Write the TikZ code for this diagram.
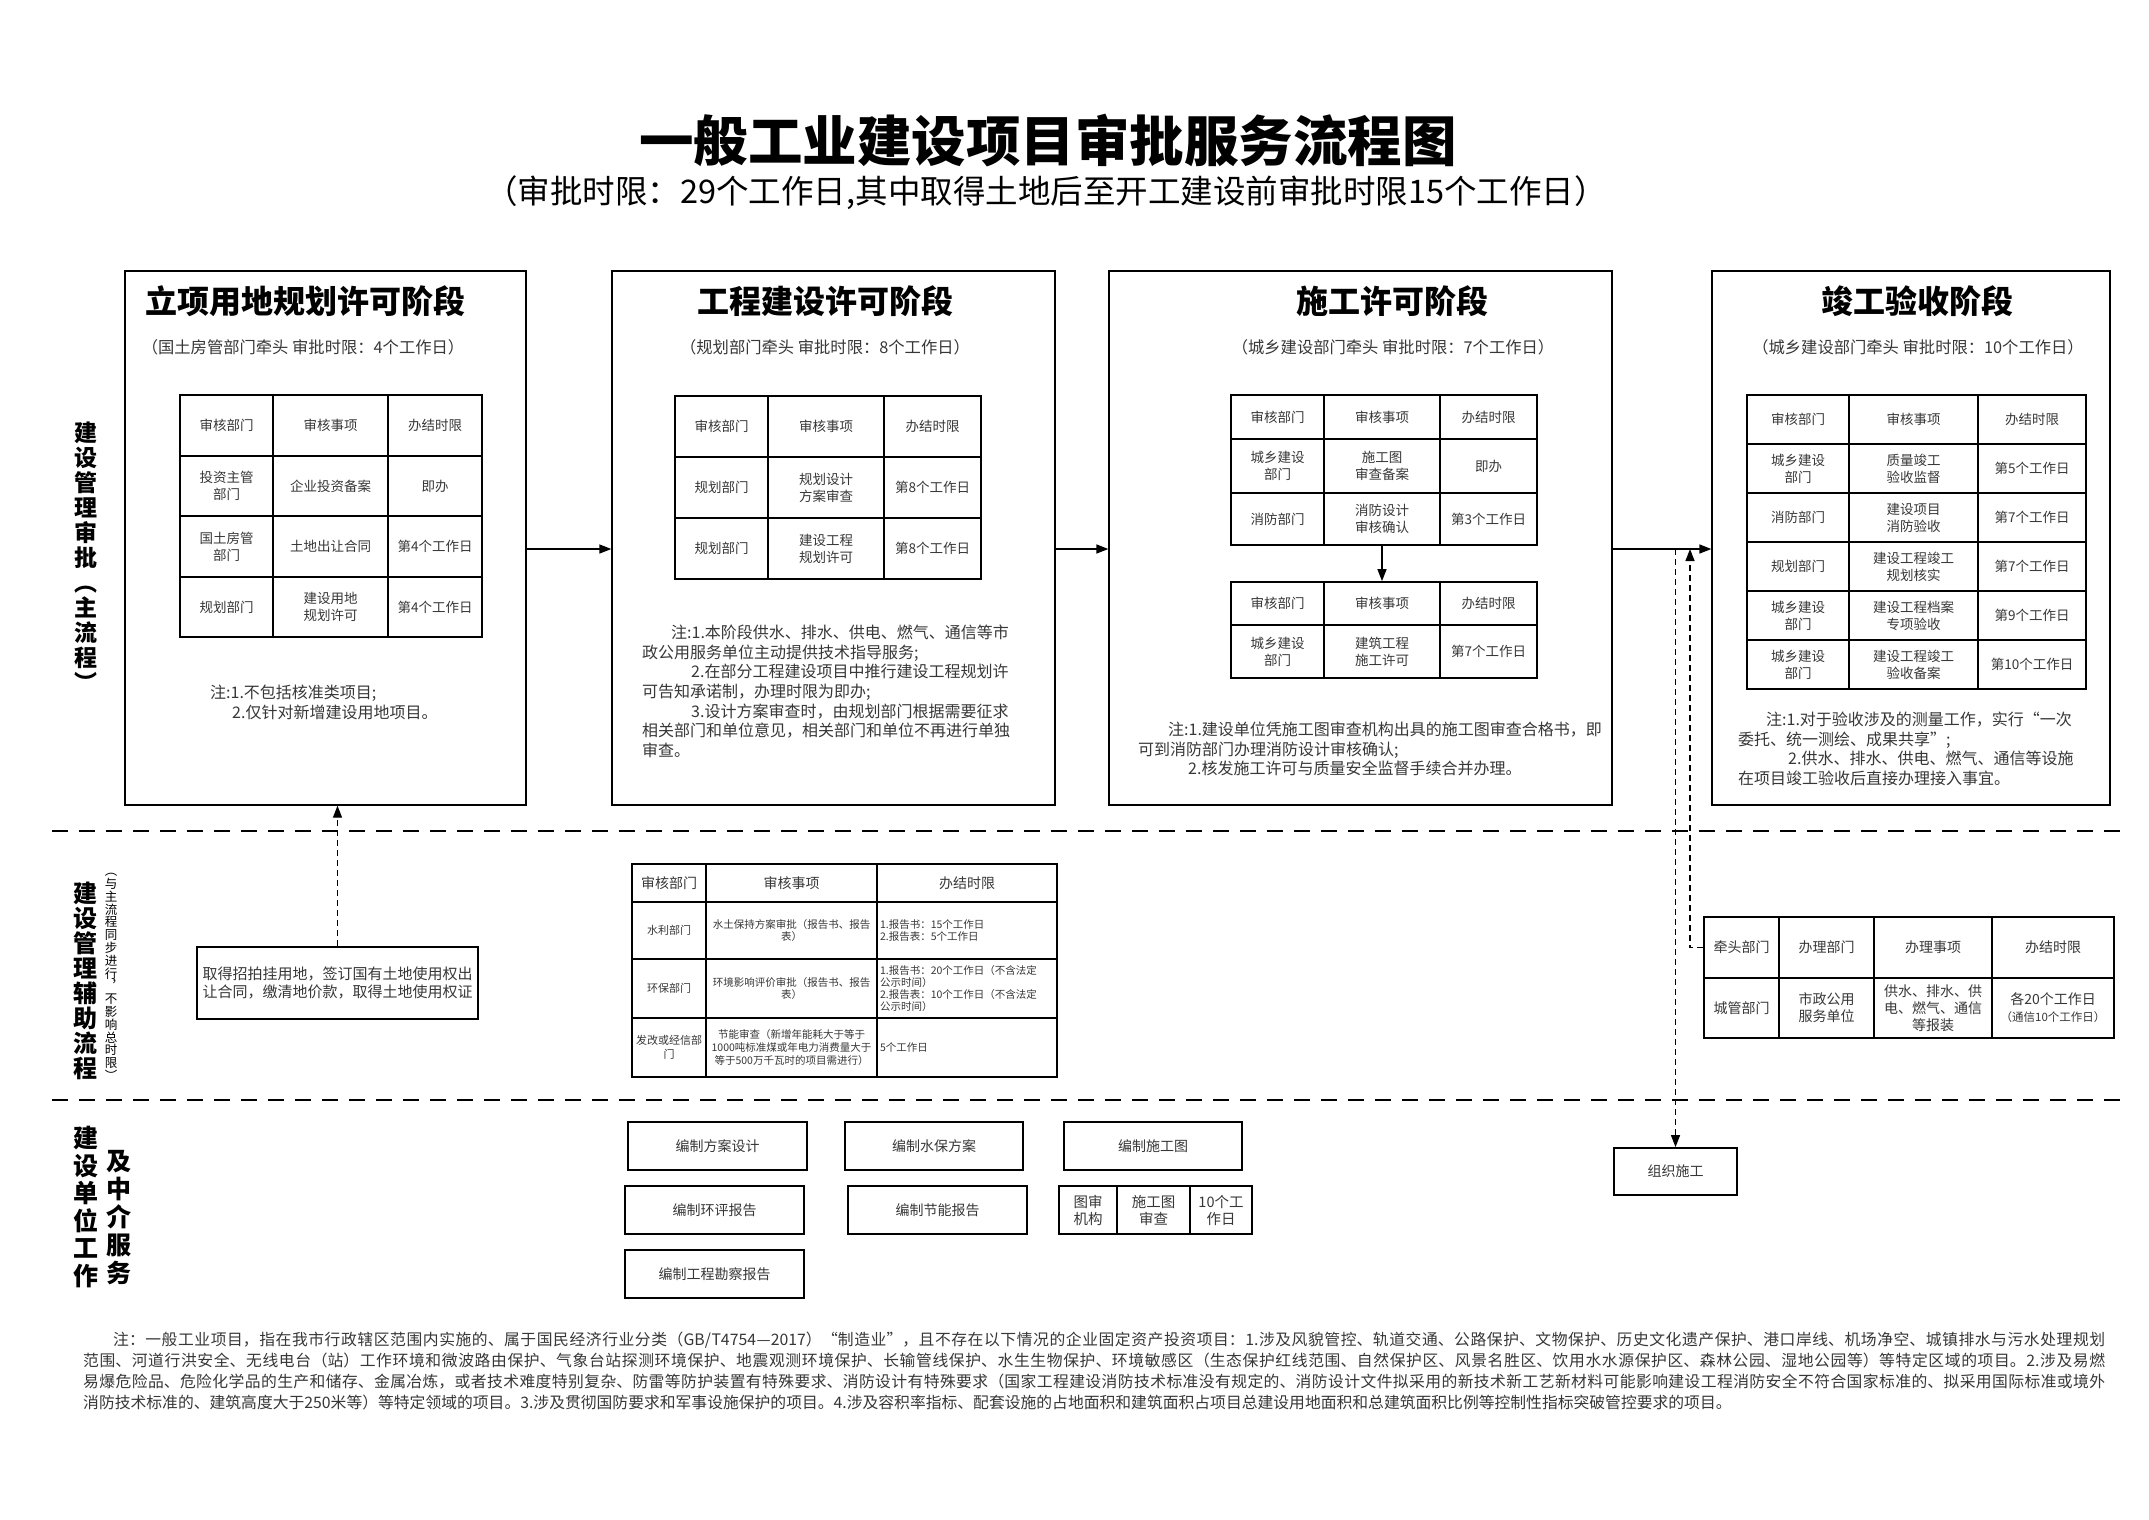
\documentclass[tikz,border=0pt]{standalone}
\usepackage{fontspec}
\setmainfont{Noto Sans CJK SC}
\usetikzlibrary{arrows.meta}
\XeTeXlinebreaklocale "zh"
\XeTeXlinebreakskip=0pt plus 1pt
\definecolor{inkgray}{RGB}{55,55,55}
\newcommand{\fsz}[2]{\fontsize{#1}{#2}\selectfont}
% table cell from corner (#3,#4) to corner (#5,#6)
\newcommand{\tcell}[7][]{%
  \node[cell,minimum width={#5-#3},minimum height={#6-#4},#1] (#2) at ({(#3+#5)/2},{(#4+#6)/2}) {#7};}

\begin{document}
\begin{tikzpicture}[x=1pt,y=-1pt,
  stage/.style={draw,line width=1.3pt,inner sep=0pt},
  cell/.style={draw,line width=1.8pt,inner sep=0pt,align=center,text=inkgray,font=\fsz{13.5}{17}},
  job/.style={draw,line width=1.8pt,inner sep=0pt,align=center,text=inkgray,font=\fsz{14}{18}},
  note/.style={anchor=north west,inner sep=0pt,align=left,text=inkgray,font=\fsz{16}{19.6}},
  head/.style={font=\bfseries\fsz{32}{34}},
  lead/.style={text=inkgray,font=\fsz{16.3}{18}},
  side/.style={align=center,inner sep=0pt,font=\bfseries\fsz{23}{25}},
  flow/.style={line width=1.5pt,-{Triangle[length=12pt,width=9pt]}},
  dlink/.style={line width=1.3pt,dash pattern=on 6pt off 4pt,-{Triangle[length=12pt,width=9pt]}},
  sep/.style={line width=1.5pt,dash pattern=on 16pt off 11pt}]
\path[use as bounding box,fill=white] (0,0) rectangle (2149,1519);

% title
\node[font=\bfseries\fsz{54.5}{58}] (title) at (1048,141) {一般工业建设项目审批服务流程图};
\node[font=\fsz{32.5}{34}] (subtitle) at (1046,193) {（审批时限：29个工作日,其中取得土地后至开工建设前审批时限15个工作日）};

% row labels
\node[side] (lab1) at (86,557) {建\\设\\管\\理\\审\\批\\︵\\主\\流\\程\\︶};
\node[side,font=\bfseries\fsz{24}{25}] (lab2) at (85,981) {建\\设\\管\\理\\辅\\助\\流\\程};
\node[side,font=\fsz{12.5}{12.8}] (lab2b) at (111,977) {︵\\与\\主\\流\\程\\同\\步\\进\\行\\︐\\不\\影\\响\\总\\时\\限\\︶};
\node[side,font=\bfseries\fsz{25}{27.5}] (lab3) at (86,1207) {建\\设\\单\\位\\工\\作};
\node[side,font=\bfseries\fsz{25}{28}] (lab3b) at (119,1218) {及\\中\\介\\服\\务};

\draw[sep] (52,831) -- (2120,831);
\draw[sep] (52,1100) -- (2120,1100);

% stage 1
\node[stage,minimum width=401,minimum height=534] (b1) at (325.5,538) {};
\node[head] (h1) at (305,301) {立项用地规划许可阶段};
\node[lead] (s1) at (303,347) {（国土房管部门牵头 审批时限：4个工作日）};
\tcell{p11}{180}{395}{273}{456}{审核部门}
\tcell{p12}{273}{395}{388}{456}{审核事项}
\tcell{p13}{388}{395}{482}{456}{办结时限}
\tcell{p21}{180}{456}{273}{516}{投资主管\\部门}
\tcell{p22}{273}{456}{388}{516}{企业投资备案}
\tcell{p23}{388}{456}{482}{516}{即办}
\tcell{p31}{180}{516}{273}{577}{国土房管\\部门}
\tcell{p32}{273}{516}{388}{577}{土地出让合同}
\tcell{p33}{388}{516}{482}{577}{第4个工作日}
\tcell{p41}{180}{577}{273}{637}{规划部门}
\tcell{p42}{273}{577}{388}{637}{建设用地\\规划许可}
\tcell{p43}{388}{577}{482}{637}{第4个工作日}
\node[note,font=\fsz{16}{20}] (n1) at (210,685) {注:1.不包括核准类项目;\\\hspace*{22pt}2.仅针对新增建设用地项目。};

% stage 2
\node[stage,minimum width=443,minimum height=534] (b2) at (833.5,538) {};
\node[head] (h2) at (825,301) {工程建设许可阶段};
\node[lead] (s2) at (825,347) {（规划部门牵头 审批时限：8个工作日）};
\tcell{g11}{675}{396}{768}{457}{审核部门}
\tcell{g12}{768}{396}{884}{457}{审核事项}
\tcell{g13}{884}{396}{981}{457}{办结时限}
\tcell{g21}{675}{457}{768}{518}{规划部门}
\tcell{g22}{768}{457}{884}{518}{规划设计\\方案审查}
\tcell{g23}{884}{457}{981}{518}{第8个工作日}
\tcell{g31}{675}{518}{768}{579}{规划部门}
\tcell{g32}{768}{518}{884}{579}{建设工程\\规划许可}
\tcell{g33}{884}{518}{981}{579}{第8个工作日}
\node[note] (n2) at (642,625) {\hspace*{29pt}注:1.本阶段供水、排水、供电、燃气、通信等市\\政公用服务单位主动提供技术指导服务;\\\hspace*{49pt}2.在部分工程建设项目中推行建设工程规划许\\可告知承诺制，办理时限为即办;\\\hspace*{49pt}3.设计方案审查时，由规划部门根据需要征求\\相关部门和单位意见，相关部门和单位不再进行单独\\审查。};

% stage 3
\node[stage,minimum width=503,minimum height=534] (b3) at (1360.5,538) {};
\node[head] (h3) at (1392,301) {施工许可阶段};
\node[lead] (s3) at (1393,347) {（城乡建设部门牵头 审批时限：7个工作日）};
\tcell{c11}{1231}{395}{1324}{439}{审核部门}
\tcell{c12}{1324}{395}{1440}{439}{审核事项}
\tcell{c13}{1440}{395}{1537}{439}{办结时限}
\tcell{c21}{1231}{439}{1324}{493}{城乡建设\\部门}
\tcell{c22}{1324}{439}{1440}{493}{施工图\\审查备案}
\tcell{c23}{1440}{439}{1537}{493}{即办}
\tcell{c31}{1231}{493}{1324}{545}{消防部门}
\tcell{c32}{1324}{493}{1440}{545}{消防设计\\审核确认}
\tcell{c33}{1440}{493}{1537}{545}{第3个工作日}
\tcell{d11}{1231}{582}{1324}{625}{审核部门}
\tcell{d12}{1324}{582}{1440}{625}{审核事项}
\tcell{d13}{1440}{582}{1537}{625}{办结时限}
\tcell{d21}{1231}{625}{1324}{678}{城乡建设\\部门}
\tcell{d22}{1324}{625}{1440}{678}{建筑工程\\施工许可}
\tcell{d23}{1440}{625}{1537}{678}{第7个工作日}
\draw[flow] (c32.south) -- (d12.north);
\node[note] (n3) at (1138,722) {\hspace*{30pt}注:1.建设单位凭施工图审查机构出具的施工图审查合格书，即\\可到消防部门办理消防设计审核确认;\\\hspace*{50pt}2.核发施工许可与质量安全监督手续合并办理。};

% stage 4
\node[stage,minimum width=398,minimum height=534] (b4) at (1911,538) {};
\node[head] (h4) at (1917,301) {竣工验收阶段};
\node[lead] (s4) at (1918,347) {（城乡建设部门牵头 审批时限：10个工作日）};
\tcell{j11}{1747}{395}{1849}{444}{审核部门}
\tcell{j12}{1849}{395}{1978}{444}{审核事项}
\tcell{j13}{1978}{395}{2086}{444}{办结时限}
\tcell{j21}{1747}{444}{1849}{493}{城乡建设\\部门}
\tcell{j22}{1849}{444}{1978}{493}{质量竣工\\验收监督}
\tcell{j23}{1978}{444}{2086}{493}{第5个工作日}
\tcell{j31}{1747}{493}{1849}{542}{消防部门}
\tcell{j32}{1849}{493}{1978}{542}{建设项目\\消防验收}
\tcell{j33}{1978}{493}{2086}{542}{第7个工作日}
\tcell{j41}{1747}{542}{1849}{591}{规划部门}
\tcell{j42}{1849}{542}{1978}{591}{建设工程竣工\\规划核实}
\tcell{j43}{1978}{542}{2086}{591}{第7个工作日}
\tcell{j51}{1747}{591}{1849}{640}{城乡建设\\部门}
\tcell{j52}{1849}{591}{1978}{640}{建设工程档案\\专项验收}
\tcell{j53}{1978}{591}{2086}{640}{第9个工作日}
\tcell{j61}{1747}{640}{1849}{689}{城乡建设\\部门}
\tcell{j62}{1849}{640}{1978}{689}{建设工程竣工\\验收备案}
\tcell{j63}{1978}{640}{2086}{689}{第10个工作日}
\node[note] (n4) at (1738,712) {\hspace*{28pt}注:1.对于验收涉及的测量工作，实行“一次\\委托、统一测绘、成果共享”;\\\hspace*{50pt}2.供水、排水、供电、燃气、通信等设施\\在项目竣工验收后直接办理接入事宜。};

% main flow
\coordinate (arr) at (0,549);
\draw[flow] (b1.east |- arr) -- (b2.west |- arr);
\draw[flow] (b2.east |- arr) -- (b3.west |- arr);
\draw[flow] (b3.east |- arr) -- (b4.west |- arr);

% auxiliary flow
\node[job,font=\fsz{15}{18.5},minimum width=281,minimum height=72] (land) at (337.5,983) {取得招拍挂用地，签订国有土地使用权出\\让合同，缴清地价款，取得土地使用权证};
\draw[dlink] (land.north) -- (land.north |- b1.south);

\tcell[font=\fsz{14}{16}]{a11}{632}{864}{706}{902}{审核部门}
\tcell[font=\fsz{14}{16}]{a12}{706}{864}{877}{902}{审核事项}
\tcell[font=\fsz{14}{16}]{a13}{877}{864}{1057}{902}{办结时限}
\tcell[font=\fsz{11}{13}]{a21}{632}{902}{706}{959}{水利部门}
\tcell[font=\fsz{10.5}{12.5}]{a22}{706}{902}{877}{959}{水土保持方案审批（报告书、报告\\表）}
\tcell[font=\fsz{10.5}{12.5},text width=174pt,align=left,inner xsep=3pt]{a23}{877}{902}{1057}{959}{1.报告书：15个工作日\\2.报告表：5个工作日}
\tcell[font=\fsz{11}{13}]{a31}{632}{959}{706}{1018}{环保部门}
\tcell[font=\fsz{10.5}{12.5}]{a32}{706}{959}{877}{1018}{环境影响评价审批（报告书、报告\\表）}
\tcell[font=\fsz{10.5}{12}, text width=174pt,align=left,inner xsep=3pt]{a33}{877}{959}{1057}{1018}{1.报告书：20个工作日（不含法定\\公示时间）\\2.报告表：10个工作日（不含法定\\公示时间）}
\tcell[font=\fsz{11}{14}]{a41}{632}{1018}{706}{1077}{发改或经信部\\门}
\tcell[font=\fsz{10.5}{13}]{a42}{706}{1018}{877}{1077}{节能审查（新增年能耗大于等于\\1000吨标准煤或年电力消费量大于\\等于500万千瓦时的项目需进行）}
\tcell[font=\fsz{10.5}{12.5},text width=174pt,align=left,inner xsep=3pt]{a43}{877}{1018}{1057}{1077}{5个工作日}

\tcell[font=\fsz{14}{17}]{r11}{1704}{917}{1779}{978}{牵头部门}
\tcell[font=\fsz{14}{17}]{r12}{1779}{917}{1874}{978}{办理部门}
\tcell[font=\fsz{14}{17}]{r13}{1874}{917}{1992}{978}{办理事项}
\tcell[font=\fsz{14}{17}]{r14}{1992}{917}{2114}{978}{办结时限}
\tcell[font=\fsz{14}{17}]{r21}{1704}{978}{1779}{1038}{城管部门}
\tcell[font=\fsz{14}{17}]{r22}{1779}{978}{1874}{1038}{市政公用\\服务单位}
\tcell[font=\fsz{14}{17}]{r23}{1874}{978}{1992}{1038}{供水、排水、供\\电、燃气、通信\\等报装}
\tcell[font=\fsz{14}{17}]{r24}{1992}{978}{2114}{1038}{各20个工作日\\{\fsz{11.5}{14}（通信10个工作日）}}

% construction unit work
\node[job,minimum width=179,minimum height=48] (fa) at (717.5,1146) {编制方案设计};
\node[job,minimum width=178,minimum height=48] (sb) at (934,1146) {编制水保方案};
\node[job,minimum width=178,minimum height=48] (sg) at (1153,1146) {编制施工图};
\node[job,minimum width=179,minimum height=48] (hp) at (714.5,1210) {编制环评报告};
\node[job,minimum width=179,minimum height=48] (jn) at (937.5,1210) {编制节能报告};
\node[job,minimum width=179,minimum height=48] (kc) at (714.5,1274) {编制工程勘察报告};
\tcell[font=\fsz{14.5}{17}]{tu1}{1059}{1186}{1117}{1234}{图审\\机构}
\tcell[font=\fsz{14.5}{17}]{tu2}{1117}{1186}{1190}{1234}{施工图\\审查}
\tcell[font=\fsz{14.5}{17}]{tu3}{1190}{1186}{1252}{1234}{10个工\\作日}
\node[job,minimum width=123,minimum height=47] (zz) at (1675.5,1171.5) {组织施工};

\draw[dlink] (zz.north |- arr) -- (zz.north);
\coordinate (up) at (1690,549);
\draw[dlink] (r11.west) -| (up);

% footnote
\node[anchor=north west,inner sep=0pt,text width=2022pt,align=justify,text=inkgray,font=\fsz{15.8}{21}] (foot) at (83,1332) {\hspace*{30pt}注：一般工业项目，指在我市行政辖区范围内实施的、属于国民经济行业分类（GB/T4754—2017）“制造业”，且不存在以下情况的企业固定资产投资项目：1.涉及风貌管控、轨道交通、公路保护、文物保护、历史文化遗产保护、港口岸线、机场净空、城镇排水与污水处理规划\linebreak 范围、河道行洪安全、无线电台（站）工作环境和微波路由保护、气象台站探测环境保护、地震观测环境保护、长输管线保护、水生生物保护、环境敏感区（生态保护红线范围、自然保护区、风景名胜区、饮用水水源保护区、森林公园、湿地公园等）等特定区域的项目。2.涉及易燃\linebreak 易爆危险品、危险化学品的生产和储存、金属冶炼，或者技术难度特别复杂、防雷等防护装置有特殊要求、消防设计有特殊要求（国家工程建设消防技术标准没有规定的、消防设计文件拟采用的新技术新工艺新材料可能影响建设工程消防安全不符合国家标准的、拟采用国际标准或境外\linebreak 消防技术标准的、建筑高度大于250米等）等特定领域的项目。3.涉及贯彻国防要求和军事设施保护的项目。4.涉及容积率指标、配套设施的占地面积和建筑面积占项目总建设用地面积和总建筑面积比例等控制性指标突破管控要求的项目。};
\end{tikzpicture}
\end{document}
